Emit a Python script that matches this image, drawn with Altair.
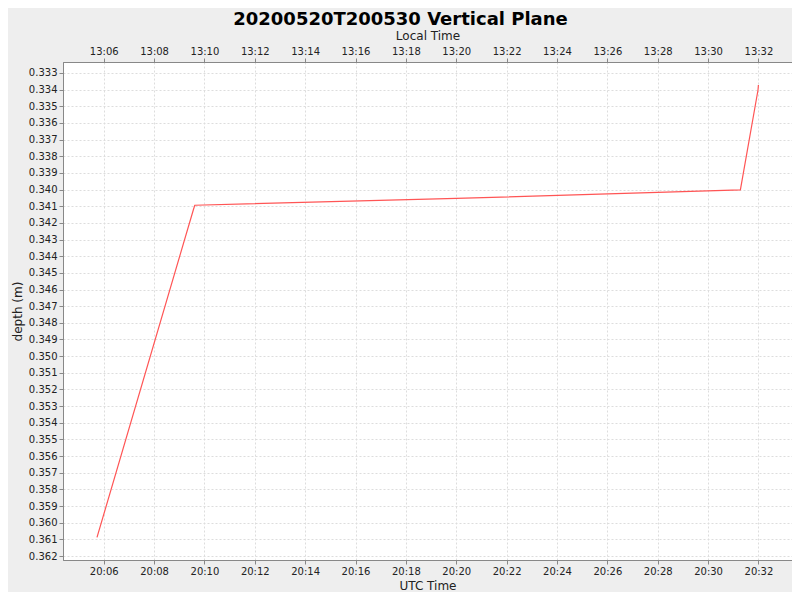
import altair as alt
import pandas as pd

# data
times_utc = [
    "2020-05-20T20:05:44Z",
    "2020-05-20T20:09:34Z",
    "2020-05-20T20:09:37Z",
    "2020-05-20T20:20:00Z",
    "2020-05-20T20:31:17Z",
    "2020-05-20T20:31:59Z",
    "2020-05-20T20:32:00Z",
]
depths = [0.36088, 0.34118, 0.34094, 0.34053, 0.34002, 0.33402, 0.33372]

y_ticks = [round(0.333 + 0.001 * i, 3) for i in range(30)]
x_tick_minutes = list(range(6, 33, 2))


def utc(h, m, s=0):
    return alt.DateTime(year=2020, month=5, date=20, hours=h, minutes=m, seconds=s, utc=True)


x_ticks = [utc(20, m) for m in x_tick_minutes]

df = pd.DataFrame({"t": times_utc, "depth": depths})

x_scale = alt.Scale(type="utc", domain=[utc(20, 4, 23), utc(20, 33, 20)], nice=False)
y_scale = alt.Scale(domain=[0.33234, 0.36224], reverse=True, nice=False, zero=False)

y_axis = alt.Axis(
    title="depth (m)",
    values=y_ticks,
    format=".3f",
    grid=True,
    labelOverlap=False,
)

base = alt.Chart(df)

line = base.mark_line(color="#FF5555", strokeWidth=1.2).encode(
    x=alt.X(
        "t:T",
        scale=x_scale,
        axis=alt.Axis(
            orient="bottom",
            title="UTC Time",
            values=x_ticks,
            labelExpr="utcFormat(datum.value, '%H:%M')",
            grid=True,
        ),
    ),
    y=alt.Y("depth:Q", scale=y_scale, axis=y_axis),
)

top = base.mark_line(opacity=0).encode(
    x=alt.X(
        "t:T",
        scale=x_scale,
        axis=alt.Axis(
            orient="top",
            title="Local Time",
            values=x_ticks,
            labelExpr="utcFormat(datum.value - 25200000, '%H:%M')",
            grid=False,
        ),
    ),
    y=alt.Y("depth:Q", scale=y_scale, axis=y_axis),
)

chart = (
    alt.layer(line, top)
    .resolve_axis(x="independent")
    .properties(
        width=729,
        height=498,
        autosize=alt.AutoSizeParams(type="none"),
        padding={"left": 55, "top": 54, "right": 0, "bottom": 32},
        background="#EEEEEE",
        title=alt.TitleParams(
            "20200520T200530 Vertical Plane",
            font="DejaVu Sans",
            fontSize=18,
            fontWeight="bold",
            color="#000000",
            anchor="middle",
            offset=0,
            dx=-27,
        ),
    )
    .configure_view(stroke="#888888", fill="#FFFFFF", strokeWidth=1)
    .configure_axis(
        labelFont="DejaVu Sans",
        labelFontSize=10,
        labelColor="#222222",
        titleFont="DejaVu Sans",
        titleFontSize=12,
        titleFontWeight="normal",
        titleColor="#222222",
        domainColor="#888888",
        tickColor="#888888",
        tickSize=4,
        gridColor="#DDDDDD",
        gridDash=[2, 2],
        gridWidth=1,
        labelPadding=2,
        titlePadding=4,
    )
)

chart.save("out.html", embed_options={"renderer": "svg", "actions": False})
